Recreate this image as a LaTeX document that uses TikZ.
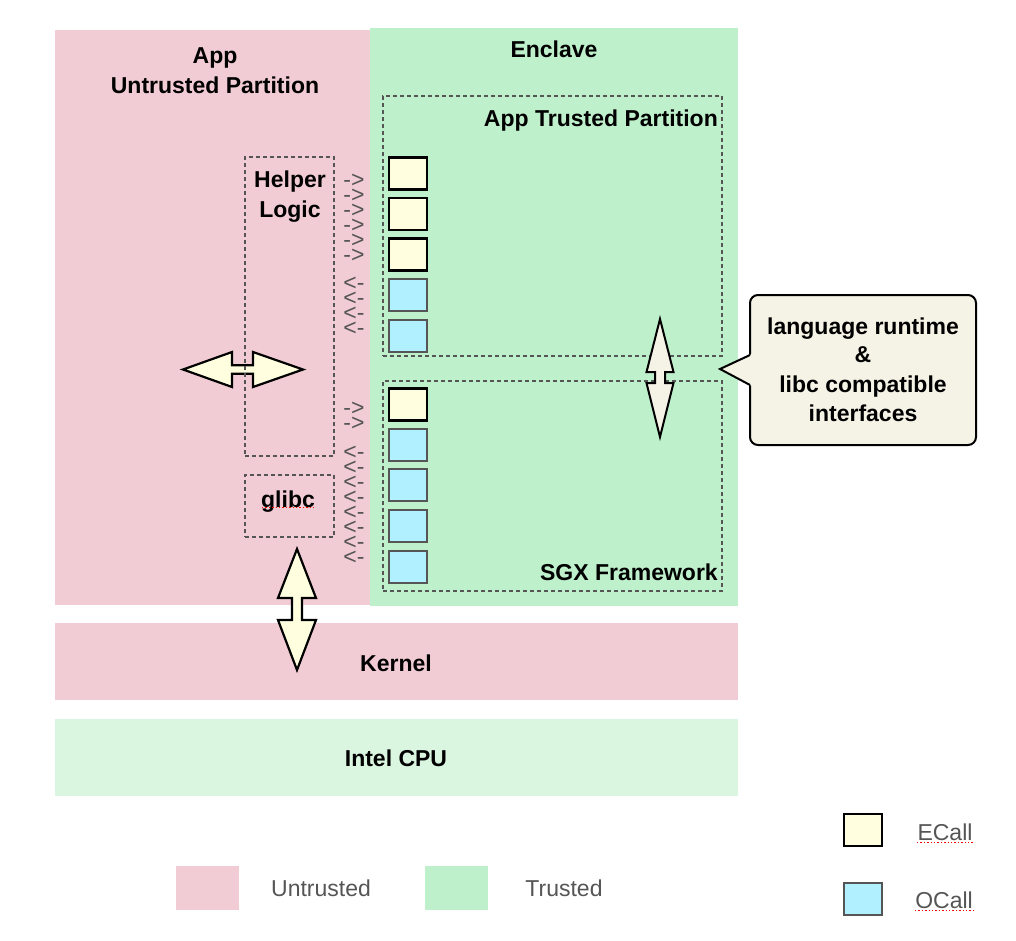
\documentclass[tikz,border=0pt]{standalone}
\usepackage{fontspec}
\setmainfont{Liberation Sans}
\definecolor{untr}{HTML}{F2CCD4}
\definecolor{trus}{HTML}{BFF0CC}
\definecolor{cpuc}{HTML}{DAF5E0}
\definecolor{ecallc}{HTML}{FFFFE0}
\definecolor{ocallc}{HTML}{B0F0FF}
\definecolor{beige}{HTML}{F5F3E6}
\definecolor{dgray}{HTML}{555555}
\begin{document}
\begin{tikzpicture}[x=1pt,y=-1pt,
  region/.style={inner sep=0pt, outer sep=0pt, draw=none},
  dbox/.style={draw=dgray, dash pattern=on 4pt off 3pt, line width=1.3pt, inner sep=0pt},
  ecallbox/.style={draw=black, line width=2.2pt, fill=ecallc, minimum width=38pt, minimum height=32pt, inner sep=0pt},
  ocallbox/.style={draw=dgray, line width=2pt, fill=ocallc, minimum width=38pt, minimum height=32pt, inner sep=0pt},
  lbl/.style={font=\fontsize{23}{28}\selectfont\bfseries, inner sep=0pt, anchor=base},
  mk/.style={font=\fontsize{23}{28}\selectfont, text=dgray, inner sep=0pt, anchor=base, text height=5pt, text depth=0pt},
  leg/.style={font=\fontsize{23}{28}\selectfont, text=dgray, inner sep=0pt, anchor=base},
  bigarrow/.style={draw=black, line width=2.2pt, line join=miter, fill=ecallc},
  spell/.style={draw=red, dotted, line width=1.4pt},
]
\useasboundingbox (0,0) rectangle (1016,940);

% regions
\node[region, fill=untr, minimum width=315pt, minimum height=575pt] (app) at (212.5,317.5) {};
\node[region, fill=trus, minimum width=368pt, minimum height=578pt] (encl) at (554,317) {};
\node[region, fill=untr, minimum width=683pt, minimum height=77pt] (kern) at (396.5,661.5) {};
\node[region, fill=cpuc, minimum width=683pt, minimum height=77pt] (cpu) at (396.5,757.5) {};

% region labels
\node[lbl] (tApp) at (215,63) {App};
\node[lbl] (tUP) at (215,93) {Untrusted Partition};
\node[lbl] (tEncl) at (554,57) {Enclave};
\node[lbl] (tKern) at (396,671) {Kernel};
\node[lbl] (tCpu) at (396,766) {Intel CPU};

% horizontal double arrow (under helper box)
\draw[bigarrow] (183,369.5) -- (232,352) -- (232,365.3) -- (253,365.3) -- (253,352) -- (303,369.5)
  -- (253,387) -- (253,373.7) -- (232,373.7) -- (232,387) -- cycle;

% dashed boxes
\node[dbox, minimum width=89pt, minimum height=299pt] (helper) at (289.5,306.5) {};
\node[dbox, minimum width=89pt, minimum height=62pt] (glibc) at (289.5,506) {};
\node[dbox, minimum width=339pt, minimum height=260pt] (tpart) at (552.5,226) {};
\node[dbox, minimum width=339pt, minimum height=210pt] (sgx) at (552.5,486) {};

\node[lbl] (tHelper) at (290,187) {Helper};
\node[lbl] (tLogic) at (290,217) {Logic};
\node[lbl] (tGlibc) at (288,507) {glibc};
\draw[spell] (262,507.5) -- (314,507.5);
\node[lbl, anchor=base east] (tTP) at (718,126) {App Trusted Partition};
\node[lbl, anchor=base east] (tSGX) at (718,580) {SGX Framework};

% call boxes
\node[ecallbox] (e1) at (408,173.5) {};
\node[ecallbox] (e2) at (408,213.7) {};
\node[ecallbox] (e3) at (408,254.5) {};
\node[ocallbox] (o1) at (408,295) {};
\node[ocallbox] (o2) at (408,335.5) {};
\node[ecallbox] (e4) at (408,404.5) {};
\node[ocallbox] (o3) at (408,445) {};
\node[ocallbox] (o4) at (408,485) {};
\node[ocallbox] (o5) at (408,526) {};
\node[ocallbox] (o6) at (408,566.5) {};

% gray arrow marks
\foreach \y [count=\i] in {180,195,210,225,240,255,408,423}
  \node[mk] (r\i) at (354,\y+7.5) {->};
\foreach \y [count=\i] in {283,298,313,328,452,467,482,497,512,527,542,557}
  \node[mk] (l\i) at (354,\y+7.5) {<-};

% vertical arrow app <-> kernel
\draw[bigarrow] (297,549) -- (316,598) -- (302,598) -- (302,620) -- (316,620) -- (297,670)
  -- (278,620) -- (292,620) -- (292,598) -- (278,598) -- cycle;

% vertical arrow in enclave
\draw[bigarrow, fill=beige, line width=2pt] (660,319) -- (673.5,372) -- (665,372) -- (665,383) -- (673.5,383) -- (660,437)
  -- (646.5,383) -- (655,383) -- (655,372) -- (646.5,372) -- cycle;

% callout
\node[draw=black, line width=2pt, fill=beige, rounded corners=8pt, minimum width=226pt, minimum height=150pt, inner sep=0pt] (call) at (863,370) {};
\fill[beige] (752,354) -- (720,369) -- (752,386) -- cycle;
\draw[line width=2pt, line join=miter] (750,355) -- (720,369) -- (750,385);
\node[lbl] (c1) at (863,334) {language runtime};
\node[lbl] (c2) at (863,362) {\&};
\node[lbl] (c3) at (863,392) {libc compatible};
\node[lbl] (c4) at (863,421) {interfaces};

% legend
\node[region, fill=untr, minimum width=63pt, minimum height=44pt] (lgU) at (207.5,888) {};
\node[region, fill=trus, minimum width=63pt, minimum height=44pt] (lgT) at (456.5,888) {};
\node[leg] (tU) at (321,896) {Untrusted};
\node[leg] (tT) at (564,896) {Trusted};
\node[ecallbox] (lgE) at (863,830) {};
\node[ocallbox] (lgO) at (863,899) {};
\node[leg] (tE) at (945,840) {ECall};
\node[leg] (tO) at (944,908) {OCall};
\draw[spell] (917,842.5) -- (973,842.5);
\draw[spell] (915,910.5) -- (973,910.5);
\end{tikzpicture}
\end{document}
